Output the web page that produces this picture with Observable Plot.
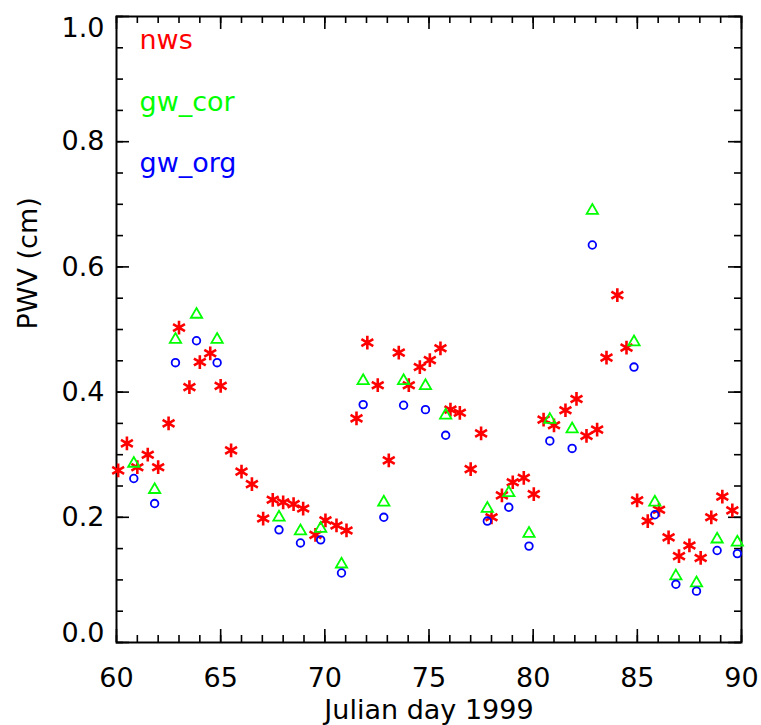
<!DOCTYPE html>
<html><head><meta charset="utf-8">
<script src="https://cdn.jsdelivr.net/npm/d3@7"></script>
<script src="https://cdn.jsdelivr.net/npm/@observablehq/plot@0.6"></script>
<style>body{margin:0;background:#fff}</style>
</head><body><div id="chart"></div>
<script>
// ---- data ----
const nwsDay = [60.08,60.5,61.0,61.5,62.0,62.5,63.0,63.5,64.0,64.5,65.0,65.5,66.0,66.5,67.04,67.5,68.0,68.5,68.96,69.55,70.03,70.56,71.04,71.52,72.04,72.54,73.07,73.55,74.03,74.56,75.04,75.55,76.03,76.48,77.0,77.5,78.0,78.5,79.02,79.55,80.03,80.5,81.0,81.55,82.08,82.56,83.07,83.52,84.04,84.48,84.99,85.5,86.04,86.5,87.0,87.5,88.04,88.55,89.08,89.56];
const nwsPwv = [0.275,0.318,0.28,0.30,0.28,0.35,0.503,0.408,0.448,0.462,0.41,0.307,0.273,0.253,0.198,0.228,0.224,0.221,0.214,0.172,0.195,0.187,0.179,0.358,0.479,0.411,0.291,0.463,0.411,0.44,0.451,0.47,0.372,0.367,0.277,0.334,0.20,0.235,0.256,0.263,0.237,0.356,0.347,0.371,0.389,0.33,0.34,0.455,0.555,0.471,0.227,0.194,0.212,0.168,0.138,0.155,0.135,0.20,0.233,0.211];
const gwDay = [60.83,61.83,62.83,63.84,64.83,67.8,68.83,69.8,70.8,71.84,72.83,73.78,74.83,75.8,77.8,78.83,79.8,80.8,81.87,82.84,84.84,85.84,86.85,87.84,88.83,89.8];
const gwCor = [0.286,0.244,0.484,0.524,0.484,0.20,0.178,0.182,0.125,0.418,0.224,0.418,0.41,0.363,0.214,0.239,0.174,0.356,0.341,0.69,0.48,0.224,0.106,0.095,0.165,0.16];
const gwOrg = [0.262,0.222,0.447,0.482,0.447,0.18,0.159,0.164,0.111,0.38,0.20,0.379,0.372,0.331,0.194,0.216,0.154,0.322,0.31,0.635,0.44,0.204,0.093,0.082,0.147,0.142];
const seriesNames = ["nws","gw_cor","gw_org"];
const seriesColors = ["#ff0000","#00ff00","#0000ff"];
const xMajorTicks = [60,65,70,75,80,85,90];
const xMinorTicks = [60,61,62,63,64,65,66,67,68,69,70,71,72,73,74,75,76,77,78,79,80,81,82,83,84,85,86,87,88,89,90];
const yMajorTicks = [0,0.2,0.4,0.6,0.8,1.0];
const yMinorTicks = [0,0.05,0.1,0.15,0.2,0.25,0.3,0.35,0.4,0.45,0.5,0.55,0.6,0.65,0.7,0.75,0.8,0.85,0.9,0.95,1.0];
const xTitle = "Julian day 1999";
const yTitle = "PWV (cm)";

// ---- layout ----
const W = 761, H = 725, mL = 116, mR = 20, mT = 16, mB = 83;
const iW = W - mL - mR, iH = H - mT - mB;
const majLen = 13, minLen = 7;
const font = "'DejaVu Sans', sans-serif";
const fmt = d3.format(".1f");

const nws = nwsDay.map((d, i) => ({day: d, v: nwsPwv[i]}));
const gw = gwDay.map((d, i) => ({day: d, cor: gwCor[i], org: gwOrg[i]}));

const tickMarks = [];
for (const [ticks, len] of [[xMinorTicks, minLen], [xMajorTicks, majLen]]) {
  tickMarks.push(Plot.tickX(ticks, {x: d => d, insetTop: iH - len, stroke: "black", strokeWidth: 1.6}));
  tickMarks.push(Plot.tickX(ticks, {x: d => d, insetBottom: iH - len, stroke: "black", strokeWidth: 1.6}));
}
for (const [ticks, len] of [[yMinorTicks, minLen], [yMajorTicks, majLen]]) {
  tickMarks.push(Plot.tickY(ticks, {y: d => d, insetRight: iW - len, stroke: "black", strokeWidth: 1.6}));
  tickMarks.push(Plot.tickY(ticks, {y: d => d, insetLeft: iW - len, stroke: "black", strokeWidth: 1.6}));
}
const yInner = yMajorTicks.slice(1, -1);
const yFirst = yMajorTicks.slice(0, 1);
const yLast = yMajorTicks.slice(-1);

const chart = Plot.plot({
  width: W, height: H,
  marginLeft: mL, marginRight: mR, marginTop: mT, marginBottom: mB,
  style: {fontFamily: font, fontSize: "27px", color: "black", background: "white"},
  x: {domain: [60, 90]},
  y: {domain: [0, 1]},
  marks: [
    Plot.axisX({ticks: xMajorTicks, tickSize: 0, tickPadding: 25, label: null}),
    Plot.axisY({ticks: yInner, tickSize: 0, tickPadding: 12, tickFormat: fmt, label: null}),
    Plot.axisY({ticks: yFirst, tickSize: 0, tickPadding: 12, tickFormat: fmt, label: null, dy: -9}),
    Plot.axisY({ticks: yLast, tickSize: 0, tickPadding: 12, tickFormat: fmt, label: null, dy: 12}),
    ...tickMarks,
    Plot.frame({stroke: "black", strokeWidth: 2}),
    Plot.dot(nws, {x: "day", y: "v", symbol: "asterisk", r: 6.5, stroke: seriesColors[0], strokeWidth: 2.6}),
    Plot.dot(gw, {x: "day", y: "cor", symbol: "triangle", r: 4.2, stroke: seriesColors[1], strokeWidth: 1.8, fill: "none"}),
    Plot.dot(gw, {x: "day", y: "org", symbol: "circle", r: 3.8, stroke: seriesColors[2], strokeWidth: 1.8, fill: "none"}),
    ...seriesNames.map((s, i) => Plot.text([s], {frameAnchor: "top-left", lineAnchor: "middle", dx: 23, dy: 24 + i * 61.5, textAnchor: "start", fill: seriesColors[i], fontSize: 27})),
    Plot.text([xTitle], {frameAnchor: "bottom", lineAnchor: "middle", dy: 68, fontSize: 27}),
    Plot.text([yTitle], {frameAnchor: "left", lineAnchor: "middle", dx: -88, rotate: -90, fontSize: 27})
  ]
});
document.getElementById("chart").appendChild(chart);
</script>
</body></html>
